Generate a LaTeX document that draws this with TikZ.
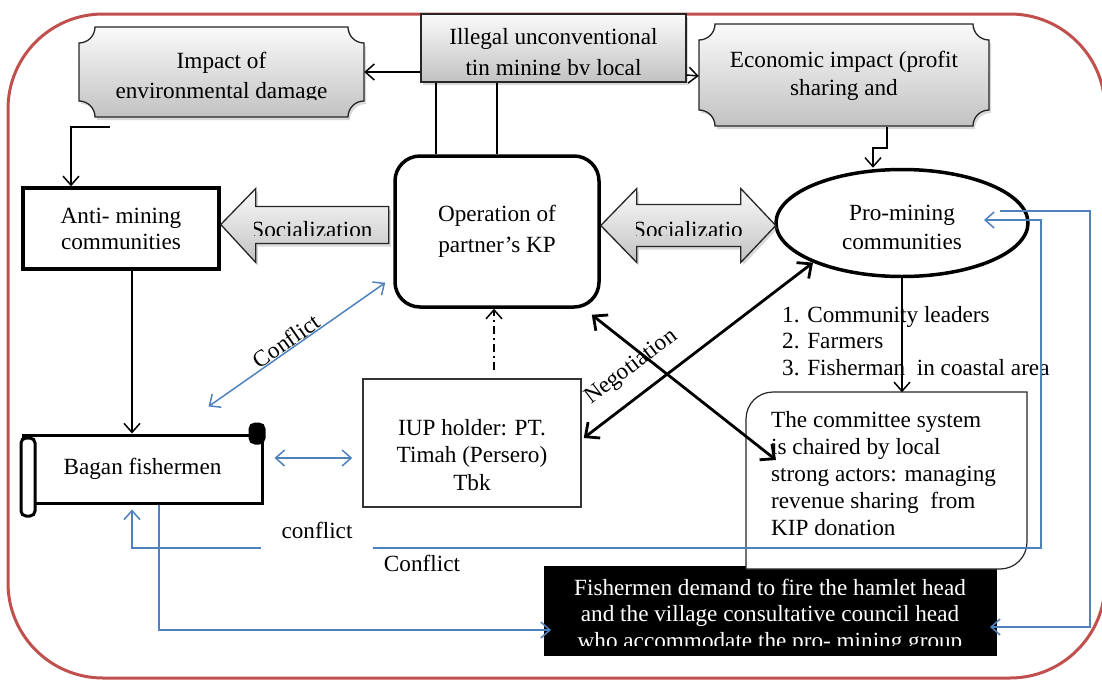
\documentclass[tikz,border=0pt]{standalone}
\usepackage{fontspec}
\setmainfont{Liberation Serif}
\usepackage{tikz}
\usetikzlibrary{shapes.geometric,arrows.meta,shadows,positioning}
\definecolor{framered}{RGB}{192,80,77}
\definecolor{linkblue}{RGB}{79,129,189}
\tikzstyle{arrow} = [line width=1.5pt,-{Straight Barb[length=9pt,width=16pt]}]
\tikzstyle{arrow_2} = [line width=2.8pt,{Straight Barb[length=11pt,width=20pt]}-{Straight Barb[length=11pt,width=20pt]}]
\tikzstyle{blue_arrow} = [linkblue,line width=1.5pt,-{Straight Barb[length=9pt,width=16pt]}]
\tikzstyle{blue_both} = [linkblue,line width=1.5pt,{Straight Barb[length=9pt,width=16pt]}-{Straight Barb[length=9pt,width=16pt]}]
\tikzstyle{gray_fill} = [draw=black!85,line width=1.3pt,top color=gray!4,bottom color=gray!48,drop shadow={shadow xshift=2pt,shadow yshift=-3pt,opacity=0.3}]
\tikzstyle{thick_box} = [draw,line width=3.5pt]
% plaque outline: x1, y1, x2, y2, corner radius
\newcommand{\plaque}[5]{({#1+#5},#2) -- ({#3-#5},#2)
  .. controls ({#3-#5},{#2+0.552*#5}) and ({#3-0.552*#5},{#2+#5}) .. (#3,{#2+#5})
  -- (#3,{#4-#5})
  .. controls ({#3-0.552*#5},{#4-#5}) and ({#3-#5},{#4-0.552*#5}) .. ({#3-#5},#4)
  -- ({#1+#5},#4)
  .. controls ({#1+#5},{#4-0.552*#5}) and ({#1+0.552*#5},{#4-#5}) .. (#1,{#4-#5})
  -- (#1,{#2+#5})
  .. controls ({#1+0.552*#5},{#2+#5}) and ({#1+#5},{#2+0.552*#5}) .. cycle}

\begin{document}
\begin{tikzpicture}[x=1pt,y=-1pt,font=\fontsize{23.2pt}{27pt}\selectfont]
    \useasboundingbox (0,0) rectangle (1102,680);
    \draw[framered,line width=3pt,rounded corners=95pt] (8,14) rectangle (1105,678);

    % top row
    \path[gray_fill] \plaque{79}{27}{364}{117}{16};
    \begin{scope}
        \clip (79,27) rectangle (364,99);
        \node (impact) [minimum width=285pt,minimum height=90pt,label={[align=center,yshift=-6pt,font=\fontsize{23.2pt}{30pt}\selectfont]center:Impact of\\environmental damage}] at (221.5,72) {};
    \end{scope}

    \node (illegal) [gray_fill,minimum width=265pt,minimum height=68pt] at (553.5,48) {};
    \begin{scope}
        \clip (421,14) rectangle (686,74);
        \node (illegal_txt) [align=center,font=\fontsize{23.2pt}{31pt}\selectfont] at (553.5,54) {Illegal unconventional\\tin mining by local};
    \end{scope}

    \path[gray_fill] \plaque{699}{24}{989}{126}{16};
    \node (economic) [minimum width=290pt,minimum height=102pt,align=center,font=\fontsize{23.2pt}{28pt}\selectfont] at (844,76) {Economic impact (profit\\sharing and};

    % middle row
    \node (anti) [thick_box,minimum width=196pt,minimum height=81pt,align=center,font=\fontsize{23.2pt}{26pt}\selectfont] at (121,228.5) {Anti- mining\\communities};
    \node (operation) [thick_box,rounded corners=25pt,minimum width=204pt,minimum height=151pt,align=center,font=\fontsize{23.2pt}{31pt}\selectfont] at (497,231.5) {Operation of\\partner’s KP};
    \node (pro) [ellipse,thick_box,minimum width=252pt,minimum height=107pt,label={[align=center,yshift=-4pt,font=\fontsize{23.2pt}{29pt}\selectfont]center:Pro-mining\\communities}] at (902,223) {};

    \path[gray_fill] ([shift={(0,-4)}]anti.east) -- ++(35,-36) -- ++(0,18) -- ++(133,0) -- ++(0,37) -- ++(-133,0) -- ++(0,19) -- cycle;
    \begin{scope}
        \clip (254,200) rectangle (388,235);
        \node (social_left) at (312,230) {Socialization};
    \end{scope}
    \path[gray_fill] ([shift={(0,-6)}]operation.east) -- ++(36,-37) -- ++(0,16) -- ++(104,0) -- ++(0,-16) -- ++(35,37) -- ++(-35,37) -- ++(0,-16) -- ++(-104,0) -- ++(0,16) -- cycle;
    \begin{scope}
        \clip (636,200) rectangle (741,235);
        \node (social_right) at (688,230) {Socializatio};
    \end{scope}

    % lower row
    \node (bagan) [draw,line width=3pt,minimum width=239pt,minimum height=68pt] at (142.5,469) {Bagan fishermen};
    \draw[line width=3pt,fill=white,rounded corners=5pt] (21,438) rectangle (35,516);
    \draw[line width=3pt,fill=black,rounded corners=5pt] (250,424) rectangle (264,443);

    \node (iup) [draw=black!80,line width=1.5pt,minimum width=218pt,minimum height=128pt,label={[align=center,yshift=-12pt,font=\fontsize{23.2pt}{27.5pt}\selectfont]center:IUP holder: PT.\\Timah (Persero)\\Tbk}] at (472,443) {};

    \node (demand) [fill=black,draw=white,line width=7pt,minimum width=460pt,minimum height=97pt,drop shadow={shadow xshift=1pt,shadow yshift=-3pt,opacity=0.25}] at (770.5,611) {};
    \begin{scope}
        \clip (544,566) rectangle (997,645);
        \node (demand_txt) [white,align=center,font=\fontsize{23.2pt}{26.5pt}\selectfont] at (770,616) {Fishermen demand to fire the hamlet head\\and the village consultative council head\\who accommodate the pro- mining group};
    \end{scope}

    \draw[black!85,line width=1.2pt,fill=white] (746,569) -- (746,419) .. controls (746,404) and (758,392) .. (773,392) -- (1027,392) -- (1027,542) .. controls (1027,557) and (1015,569) .. (1000,569) -- cycle;
    \node (committee) [align=left,anchor=north west,inner sep=0pt] at (771,411) {The committee system\\is chaired by local\\strong actors: managing\\revenue sharing\ \ from\\KIP donation};

    % connectors
    \draw[arrow] ([shift={(0,24)}]illegal.west) -- (impact.east);
    \draw[arrow] ([shift={(0,27)}]illegal.east) -- (economic.west);
    \draw[arrow] ([shift={(43,0)}]economic.south) -- ++(0,21) -| ([shift={(-29,0)}]pro.north);
    \coordinate (op_left) at ([shift={(-61,0)}]operation.north);
    \draw[line width=1.5pt] (operation.north) -- (operation.north |- illegal.south);
    \draw[line width=1.5pt] (op_left) -- (op_left |- illegal.south);
    \draw[arrow] ([shift={(-112,10)}]impact.south) -| ([shift={(-50,0)}]anti.north);
    \coordinate (anti_out) at ([shift={(11,0)}]anti.south);
    \draw[arrow] (anti_out) -- (anti_out |- bagan.north);
    \coordinate (iup_up) at ([shift={(22,-8)}]iup.north);
    \draw[arrow,dash pattern=on 8pt off 4pt on 2pt off 4pt] (iup_up) -- (iup_up |- operation.south);

    \node (groups) [align=left,anchor=north west,inner sep=0pt,font=\fontsize{23.2pt}{26.5pt}\selectfont] at (782,306) {1. Community leaders\\2. Farmers\\3. Fisherman\ \ in coastal area};
    \draw[arrow] (pro.south) -- ++(0,114);

    \draw[arrow_2] ([shift={(2,-5)}]iup.east) -- node[sloped,above=12pt,pos=0.28] (negotiation) {Negotiation} (pro.204);
    \draw[arrow_2] ([shift={(-9,6)}]operation.south east) -- ([shift={(5,49)}]committee.north west);

    \draw[blue_both] ([shift={(-55,-27)}]bagan.north east) -- node[sloped,above,inner sep=0pt,pos=0.47,text=black] (conflict_a) {Conflict} ([shift={(-8,-26)}]operation.south west);
    \draw[blue_both] ([shift={(11,-11)}]bagan.east) -- ([shift={(-10,15)}]iup.west);

    \coordinate (right_a) at (1041,548);
    \coordinate (right_b) at (1090,211);
    \draw[blue_both] ([shift={(-10.5,5)}]bagan.south) |- (right_a) |- ([shift={(82,-3)}]pro.center);
    \node (conflict_b) [fill=white,anchor=base,text depth=14pt,inner sep=2pt,minimum width=112pt] at (317,538) {conflict};
    \node (conflict_c) at (422,563) {Conflict};
    \draw[blue_arrow] ([shift={(16.5,0)}]bagan.south) |- ([shift={(14,19)}]demand.west);
    \draw[blue_arrow] ([shift={(98,-12)}]pro.center) -- (right_b) |- ([shift={(-14,16)}]demand.east);
\end{tikzpicture}
\end{document}
